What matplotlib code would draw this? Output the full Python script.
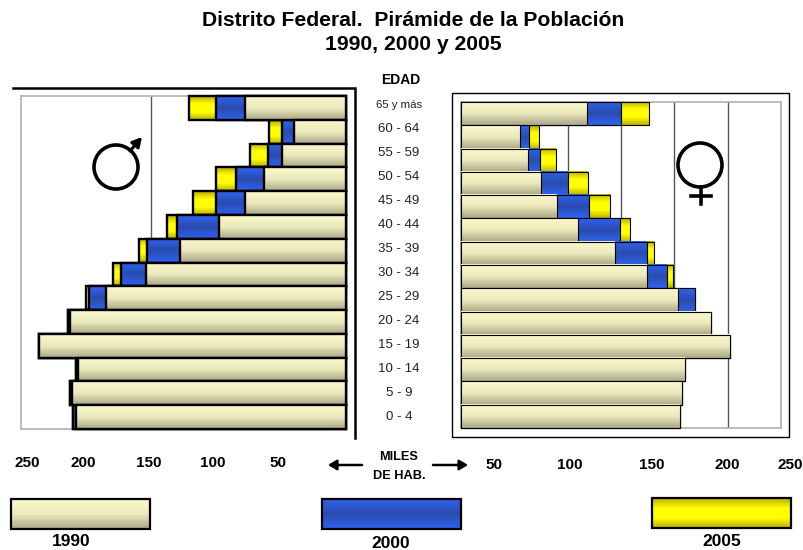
import numpy as np
import matplotlib
matplotlib.use("Agg")
import matplotlib.pyplot as plt
from matplotlib.colors import LinearSegmentedColormap
from matplotlib.patches import Circle, Rectangle

plt.rcParams['font.family'] = ['Liberation Sans', 'DejaVu Sans']

edades = ["65 y más", "60 - 64", "55 - 59", "50 - 54", "45 - 49", "40 - 44", "35 - 39",
          "30 - 34", "25 - 29", "20 - 24", "15 - 19", "10 - 14", "5 - 9", "0 - 4"]

#miles de habitantes
hombres_1990 = [78, 40, 49, 63, 78, 98, 128, 154, 185, 212, 236, 206, 211, 208]
hombres_2000 = [100, 49, 60, 85, 100, 130, 153, 173, 198, 214, 236, 208, 212, 210]
hombres_2005 = [121, 59, 74, 100, 118, 138, 159, 179, 200, 214, 236, 208, 212, 210]

mujeres_1990 = [118, 55, 63, 75, 90, 110, 144, 174, 203, 234, 252, 210, 207, 205]
mujeres_2000 = [150, 64, 74, 100, 120, 149, 174, 193, 219, 234, 252, 210, 207, 205]
mujeres_2005 = [176, 73, 89, 119, 140, 158, 181, 199, 219, 234, 252, 210, 207, 205]

miles_izq = [250, 200, 150, 100, 50]
miles_der = [50, 100, 150, 200, 250]
anios = ["1990", "2000", "2005"]

W, H = 804, 550

grad_1990 = LinearSegmentedColormap.from_list("g90", ["#fbf8cc", "#ecE9bd", "#aaa886"])
grad_2000 = LinearSegmentedColormap.from_list("g00", ["#2f62ee", "#2a4cae", "#2f62ee"])
grad_2005 = LinearSegmentedColormap.from_list("g05", ["#bcb000", "#ffff00", "#ffff00", "#bcb000"])
rampa = np.linspace(0, 1, 64).reshape(-1, 1)


def ejes(x0, x1, y0, y1):
	return fig.add_axes([x0 / W, 1 - y1 / H, (x1 - x0) / W, (y1 - y0) / H])


def barras(ax, valores, cmap, lw):
	for i, v in enumerate(valores):
		ax.imshow(rampa, cmap=cmap, extent=(0, v, i + 1, i), aspect='auto', zorder=3, vmin=0, vmax=1)
		ax.add_patch(Rectangle((0, i), v, 1, fill=False, ec='black', lw=lw, zorder=3, clip_on=False))


def piramide(ax, serie_90, serie_00, serie_05, xlim, ticks, lw):
	barras(ax, serie_05, grad_2005, lw)
	barras(ax, serie_00, grad_2000, lw)
	barras(ax, serie_90, grad_1990, lw)
	ax.set_xlim(*xlim)
	ax.set_ylim(len(edades), 0)
	ax.set_xticks(ticks)
	ax.set_yticks([])
	ax.tick_params(length=0, labelbottom=False)
	ax.grid(axis='x', color='#555555', lw=1, zorder=1)
	for s in ax.spines.values():
		s.set_color('#b0b0b0')
		s.set_linewidth(1.2)


fig = plt.figure(figsize=(W / 100, H / 100), dpi=100)

#capa en pixeles para textos y adornos
capa = fig.add_axes([0, 0, 1, 1], zorder=5)
capa.set_xlim(0, W)
capa.set_ylim(H, 0)
capa.axis('off')

izq = ejes(21, 346, 96, 429)
piramide(izq, hombres_1990, hombres_2000, hombres_2005, (250, 0), [150], 1.7)
der = ejes(461, 781, 102, 428)
piramide(der, mujeres_1990, mujeres_2000, mujeres_2005, (0, 300), [50, 100, 150, 200, 250, 300], 0.8)

capa.text(413, 20, "Distrito Federal.  Pirámide de la Población", ha='center', va='center', fontsize=15.2, fontweight='bold')
capa.text(413, 45, "1990, 2000 y 2005", ha='center', va='center', fontsize=15.2, fontweight='bold')
capa.text(401, 80, "EDAD", ha='center', va='center', fontsize=10, fontweight='bold')

for i, e in enumerate(edades):
	capa.text(399, 105.5 + 24 * i, e, ha='center', va='center', fontsize=8.2 if i == 0 else 9.5, color='#222222')

#marcos
capa.plot([13, 355, 355], [88, 88, 438], color='black', lw=1.8, solid_joinstyle='miter')
capa.add_patch(Rectangle((452.5, 93), 336.5, 344, fill=False, ec='black', lw=1))

#simbolos
capa.add_patch(Circle((116, 167), 22, fill=False, ec='black', lw=2.6, zorder=6))
capa.annotate("", xy=(142, 137), xytext=(130, 151), zorder=6,
	arrowprops=dict(arrowstyle='-|>,head_width=0.3,head_length=0.55', color='black', lw=2.2, shrinkA=0, shrinkB=0))
capa.add_patch(Circle((700, 165), 22, fill=False, ec='black', lw=2.6, zorder=6))
capa.plot([701, 701], [187, 204], color='black', lw=2.6, zorder=6)
capa.plot([691, 711], [196, 196], color='black', lw=2.6, zorder=6)

#escala
for m, x in zip(miles_izq, [27, 83, 149, 213, 278]):
	capa.text(x, 463, str(m), ha='center', va='center', fontsize=11, fontweight='bold')
for m, x in zip(miles_der, [494, 570, 652, 727, 790]):
	capa.text(x, 465, str(m), ha='center', va='center', fontsize=11, fontweight='bold')
capa.text(399, 457, "MILES", ha='center', va='center', fontsize=9.2, fontweight='bold')
capa.text(399, 476, "DE HAB.", ha='center', va='center', fontsize=9.2, fontweight='bold')
for a, b in [((328, 465), (362, 465)), ((468, 465), (433, 465))]:
	capa.annotate("", xy=a, xytext=b, arrowprops=dict(arrowstyle='-|>,head_width=0.3,head_length=0.5', color='black', lw=1.8, shrinkA=0, shrinkB=0))

#leyenda
for nombre, cmap, x, y, tx, ty in zip(anios, [grad_1990, grad_2000, grad_2005], [11, 322, 652], [499, 499, 498], [71, 391, 722], [542, 544, 541]):
	capa.imshow(rampa, cmap=cmap, extent=(x, x + 139, y + 30, y), aspect='auto', vmin=0, vmax=1)
	capa.add_patch(Rectangle((x, y), 139, 30, fill=False, ec='black', lw=1.6))
	capa.text(tx, ty, nombre, ha='center', va='center', fontsize=12.5, fontweight='bold')
capa.set_xlim(0, W)
capa.set_ylim(H, 0)

fig.savefig("out.png", dpi=100)
